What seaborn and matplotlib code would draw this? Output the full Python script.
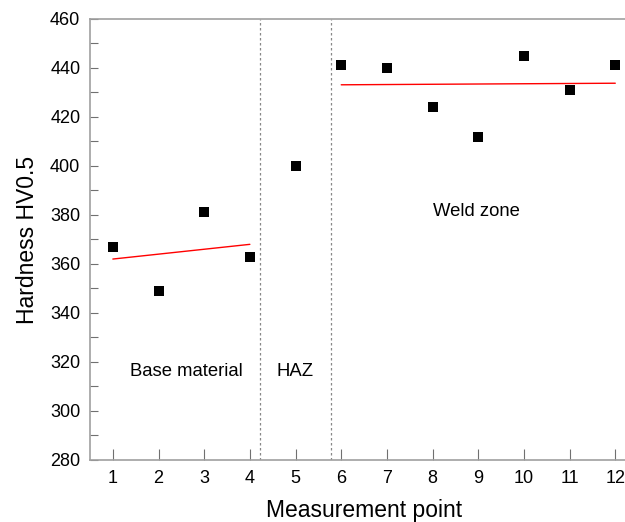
import numpy as np
import pandas as pd
import seaborn as sns
import matplotlib.pyplot as plt
from matplotlib.ticker import MultipleLocator

# hardness readings per measurement point
points = [1, 2, 3, 4, 5, 6, 7, 8, 9, 10, 11, 12]
hardness = [367, 349, 381, 363, 400, 441, 440, 424, 412, 445, 431, 441]
base_pts = [1, 2, 3, 4]
weld_pts = [6, 7, 8, 9, 10, 11, 12]
zone_bounds = [4.23, 5.77]

df = pd.DataFrame({"point": points, "hv": hardness})
base_df = df[df["point"].isin(base_pts)]
weld_df = df[df["point"].isin(weld_pts)]

sns.set_theme(style="white")
plt.rcParams["font.family"] = ["Liberation Sans", "DejaVu Sans"]
plt.rcParams["text.color"] = "black"
plt.rcParams["axes.labelcolor"] = "black"
plt.rcParams["xtick.labelcolor"] = "black"
plt.rcParams["ytick.labelcolor"] = "black"

fig = plt.figure(figsize=(6.25, 5.22), dpi=100)
ax = fig.add_axes([0.144, 0.1188, 0.877, 0.845])

# linear fits in base material and weld zone
sns.regplot(data=base_df, x="point", y="hv", scatter=False, ci=None, ax=ax,
            color="red", line_kws={"lw": 1})
sns.regplot(data=weld_df, x="point", y="hv", scatter=False, ci=None, ax=ax,
            color="red", line_kws={"lw": 1})

sns.scatterplot(data=df, x="point", y="hv", marker="s", s=48, color="black",
                edgecolor="black", linewidth=0, ax=ax, zorder=3)

for xb in zone_bounds:
    ax.axvline(xb, color="#888888", linestyle=(0, (2, 2)), lw=0.9)

ax.text(2.62, 316, "Base material", ha="center", va="center", fontsize=13.3)
ax.text(5.0, 316, "HAZ", ha="center", va="center", fontsize=13.3)
ax.text(8.95, 381.5, "Weld zone", ha="center", va="center", fontsize=13.3)

ax.set_xlim(0.5, 12.5)
ax.set_ylim(280, 460)
ax.set_xticks(points)
ax.yaxis.set_major_locator(MultipleLocator(20))
ax.yaxis.set_minor_locator(MultipleLocator(10))
ax.tick_params(axis="x", direction="in", length=8, width=0.8, color="#707070",
               labelsize=13, pad=7, bottom=True)
ax.tick_params(axis="y", which="both", direction="in", length=6, width=0.8,
               color="#707070", labelsize=13, pad=7, left=True)

for side in ["left", "bottom", "top", "right"]:
    ax.spines[side].set_color("#a0a0a0")
    ax.spines[side].set_linewidth(1.2)

ax.set_xlabel("Measurement point", fontsize=16.5, labelpad=9)
ax.set_ylabel("Hardness HV0.5", fontsize=16.5, labelpad=8)

fig.savefig("out.png", dpi=100)
